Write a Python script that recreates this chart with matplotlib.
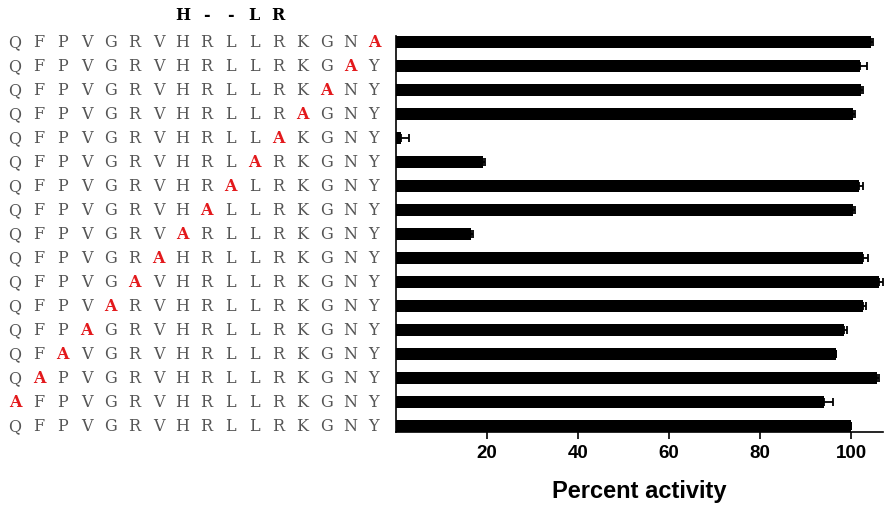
import matplotlib
matplotlib.use("Agg")
import matplotlib.pyplot as plt
from matplotlib.transforms import blended_transform_factory

# Peptide alanine scan: wild-type sequence and the position substituted by Ala in each row
wild_type = list("QFPVGRVHRLLRKGNY")
ala_position = [15, 14, 13, 12, 11, 10, 9, 8, 7, 6, 5, 4, 3, 2, 1, 0, None]
activity = [104.4, 101.9, 102.2, 100.5, 1.2, 19.2, 101.7, 100.5, 16.4,
            102.6, 106.1, 102.6, 98.4, 96.6, 105.7, 94.0, 100.0]
sem = [0.4, 1.5, 0.5, 0.4, 1.7, 0.3, 1.0, 0.3, 0.6,
       1.1, 0.8, 0.6, 0.8, 0.0, 0.4, 2.0, 0.0]
motif = ["H", "-", "-", "L", "R"]
motif_start = 7
xticks = [20, 40, 60, 80, 100]

W, H = 884, 505
fig = plt.figure(figsize=(W / 100, H / 100), dpi=100)
ax = fig.add_axes([396 / W, (H - 432) / H, 487 / W, (432 - 36) / H])

n = len(activity)
rows = list(range(n))
bar_h = 0.52
ax.barh(rows, activity, height=bar_h, color="black",
        xerr=[[0] * n, sem], error_kw=dict(ecolor="black", elinewidth=1.3,
                                            capsize=3, capthick=1.3))
ax.set_xlim(0, 107)
ax.set_ylim(n - 1 + bar_h / 2, -bar_h / 2)

ax.set_xticks(xticks)
ax.set_xticklabels([str(t) for t in xticks], fontfamily="Liberation Sans",
                   fontweight="bold", fontsize=13.5)
ax.set_yticks([])
ax.tick_params(axis="x", direction="out", length=5, width=1.2, pad=4)
for side in ("top", "right"):
    ax.spines[side].set_visible(False)
for side in ("left", "bottom"):
    ax.spines[side].set_linewidth(1.2)
ax.set_xlabel("Percent activity", fontfamily="Liberation Sans",
              fontweight="bold", fontsize=17, labelpad=13)

# Sequence labels, one residue per column
trans = blended_transform_factory(fig.transFigure, ax.transData)
col_x = lambda j: (15 + 23.93 * j) / W
seq_font = "DejaVu Serif"
for i in rows:
    for j, aa in enumerate(wild_type):
        if ala_position[i] == j:
            ax.text(col_x(j), i + 0.03, "A", transform=trans, ha="center",
                    va="center", fontsize=11.5, fontfamily=seq_font,
                    fontweight="bold", color="#e3191c", clip_on=False)
        else:
            ax.text(col_x(j), i + 0.03, aa, transform=trans, ha="center",
                    va="center", fontsize=11.5, fontfamily=seq_font,
                    color="#555555", clip_on=False)

for k, ch in enumerate(motif):
    fig.text(col_x(motif_start + k), 1 - 15.7 / H, ch, ha="center", va="center",
             fontsize=11.5, fontfamily=seq_font, fontweight="bold", color="black")

fig.savefig("out.png", dpi=100)
